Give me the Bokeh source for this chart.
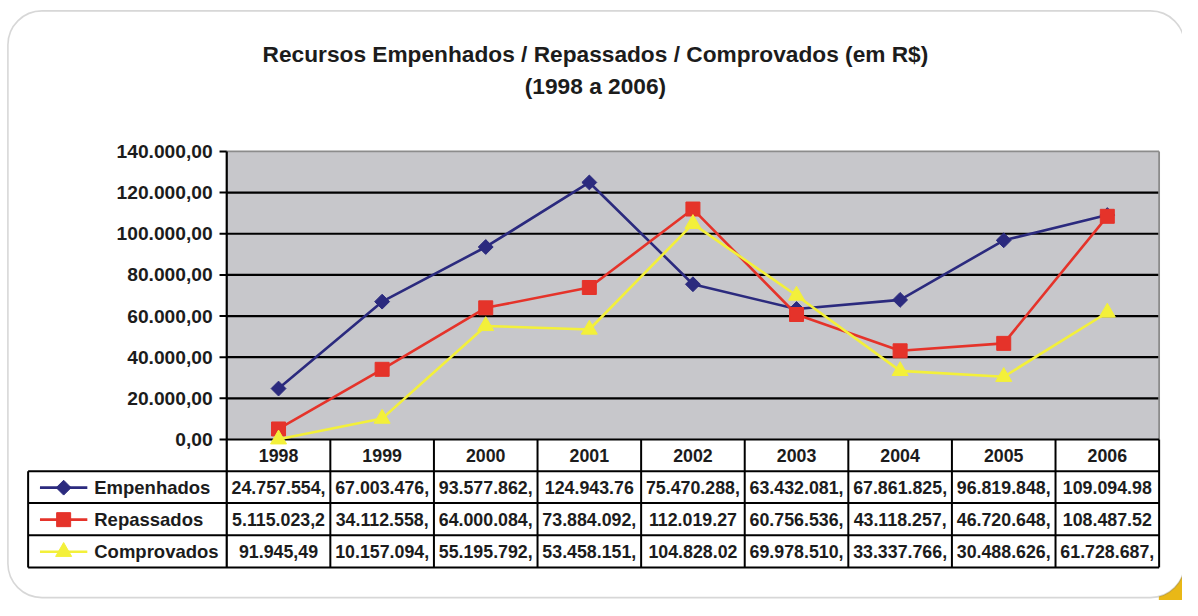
import math
from bokeh.plotting import figure
from bokeh.models import Range1d, BoxAnnotation
from bokeh.core.properties import value
from bokeh.embed import file_html
from bokeh.resources import INLINE

# ---------------- data ----------------
years = ["1998", "1999", "2000", "2001", "2002", "2003", "2004", "2005", "2006"]
series_names = ["Empenhados", "Repassados", "Comprovados"]

# plotted values (R$ / 1000, as on the value axis)
empenhados = [24757.554, 67003.476, 93577.862, 124943.76, 75470.288,
              63432.081, 67861.825, 96819.848, 109094.98]
repassados = [5115.0232, 34112.558, 64000.084, 73884.092, 112019.27,
              60756.536, 43118.257, 46720.648, 108487.52]
comprovados = [91.94549, 10157.094, 55195.792, 53458.151, 104828.02,
               69978.510, 33337.766, 30488.626, 61728.687]

# texts of the data table (as cut off in the cells)
table_empenhados = ["24.757.554,", "67.003.476,", "93.577.862,", "124.943.76",
                    "75.470.288,", "63.432.081,", "67.861.825,", "96.819.848,",
                    "109.094.98"]
table_repassados = ["5.115.023,2", "34.112.558,", "64.000.084,", "73.884.092,",
                    "112.019.27", "60.756.536,", "43.118.257,", "46.720.648,",
                    "108.487.52"]
table_comprovados = ["91.945,49", "10.157.094,", "55.195.792,", "53.458.151,",
                     "104.828.02", "69.978.510,", "33.337.766,", "30.488.626,",
                     "61.728.687,"]

y_ticks = [0, 20000, 40000, 60000, 80000, 100000, 120000, 140000]
y_tick_labels = ["0,00", "20.000,00", "40.000,00", "60.000,00", "80.000,00",
                 "100.000,00", "120.000,00", "140.000,00"]

title_lines = ["Recursos Empenhados / Repassados / Comprovados (em R$)", "(1998 a 2006)"]

colors = ["#2B2A7E", "#E5332A", "#F3F03A"]
markers = ["square", "square", "triangle"]
marker_sizes = [10.5, 14, 16]
marker_angles = [math.pi / 4, 0.0, 0.0]

# ---------------- layout (geometry in reference-picture pixels) ----------------
REF_W, REF_H = 1198, 616
W, H = 1182, 600
COL_W = 105.0            # px per category
X0_PX = 281.8            # px of first category centre
Y0_PX = 450.7            # px (from top) of value 0
PX_PER_UNIT = 295.7 / 140000.0
FS = W / REF_W           # font scale


def X(px):
    return (px - X0_PX) / COL_W


def Y(py):
    return (Y0_PX - py) / PX_PER_UNIT


def fpx(size):
    return "%.1fpx" % (size * FS)


FONT = value("Liberation Sans")
TXT = "#1c1c1c"
n = len(years)
xs = list(range(n))
left_edge, right_edge = -0.5, n - 0.5
ymax = y_ticks[-1]

p = figure(width=W, height=H, x_range=Range1d(X(0), X(REF_W)), y_range=Range1d(Y(REF_H), Y(0)),
           min_border=0, toolbar_location=None, output_backend="svg",
           x_axis_type=None, y_axis_type=None, outline_line_color=None,
           background_fill_color="white", border_fill_color="white")

# gold corner behind the frame, then the rounded white frame
p.add_layout(BoxAnnotation(left=X(1174), right=X(1230), top=Y(578), bottom=Y(640),
                           fill_color="#E9B817", fill_alpha=1, line_color=None,
                           level="underlay"))
p.add_layout(BoxAnnotation(left=X(7.5), right=X(1200), top=Y(10.7), bottom=Y(613),
                           border_radius=34, fill_color="white", fill_alpha=1,
                           line_color="#7a7a7a", line_width=1.6, level="underlay"))

# plot area
p.quad(left=[left_edge], right=[right_edge], bottom=[y_ticks[0]], top=[ymax],
       fill_color="#C7C7CB", line_color=None)
inner = y_ticks[1:-1]
p.segment(x0=[left_edge] * len(inner), x1=[right_edge] * len(inner), y0=inner, y1=inner,
          line_color="black", line_width=2.2)
p.segment(x0=[left_edge, right_edge], x1=[right_edge, right_edge], y0=[ymax, 0], y1=[ymax, ymax],
          line_color="#8c8c8c", line_width=1.8)

# table geometry (px from top)
header_bottom = 483.3
row_bottoms = [516.0, 549.0, 582.0]
row_tops = [header_bottom] + row_bottoms[:-1]
table_left = X(28)
table_bottom = Y(row_bottoms[-1])

# value axis line, ticks and labels
p.segment(x0=[left_edge], x1=[left_edge], y0=[table_bottom], y1=[ymax],
          line_color="black", line_width=2.2)
p.segment(x0=[X(222)] * len(y_ticks), x1=[left_edge] * len(y_ticks), y0=y_ticks, y1=y_ticks,
          line_color="black", line_width=2)
p.text(x=[X(215)] * len(y_ticks), y=y_ticks, text=y_tick_labels, text_font=FONT,
       text_font_style="bold", text_font_size=fpx(19.5), text_align="right",
       text_baseline="middle", text_color=TXT)

# table lines
p.segment(x0=[left_edge], x1=[right_edge], y0=[0], y1=[0], line_color="black", line_width=2.2)
hb = [Y(v) for v in [header_bottom] + row_bottoms]
p.segment(x0=[table_left] * len(hb), x1=[right_edge] * len(hb), y0=hb, y1=hb,
          line_color="black", line_width=2)
vx = [i + 0.5 for i in range(n)]
p.segment(x0=vx, x1=vx, y0=[0] * n, y1=[table_bottom] * n, line_color="black", line_width=2)
p.segment(x0=[table_left], x1=[table_left], y0=[Y(header_bottom)], y1=[table_bottom],
          line_color="black", line_width=2)

# series
series = [empenhados, repassados, comprovados]
for vals, c, m, s, a in zip(series, colors, markers, marker_sizes, marker_angles):
    p.line(xs, vals, line_color=c, line_width=2.6)
    p.scatter(xs, vals, marker=m, size=s, angle=a, fill_color=c, line_color=c)

# table header (years)
p.text(x=xs, y=[Y((Y0_PX + header_bottom) / 2)] * n, text=years, text_font=FONT,
       text_font_style="bold", text_font_size=fpx(18), text_align="center",
       text_baseline="middle", text_color=TXT)

# table rows + legend keys
table_texts = [table_empenhados, table_repassados, table_comprovados]
for k, (name, texts, c, m, s, a) in enumerate(zip(series_names, table_texts, colors,
                                                   markers, marker_sizes, marker_angles)):
    yc = Y((row_tops[k] + row_bottoms[k]) / 2 + 0.5)
    p.text(x=xs, y=[yc] * n, text=texts, text_font=FONT, text_font_style="bold",
           text_font_size=fpx(18), text_align="center", text_baseline="middle",
           text_color=TXT)
    p.line([X(40), X(88)], [yc, yc], line_color=c, line_width=2.6)
    p.scatter([X(64)], [yc], marker=m, size=s, angle=a, fill_color=c, line_color=c)
    p.text(x=[X(95)], y=[yc], text=[name], text_font=FONT, text_font_style="bold",
           text_font_size=fpx(18.7), text_align="left", text_baseline="middle",
           text_color=TXT)

# title
p.text(x=[X(603), X(603)], y=[Y(55), Y(88)], text=title_lines, text_font=FONT,
       text_font_style="bold", text_font_size=fpx(23), text_align="center",
       text_baseline="middle", text_color=TXT)

open("out.html", "w").write(file_html(p, INLINE))
